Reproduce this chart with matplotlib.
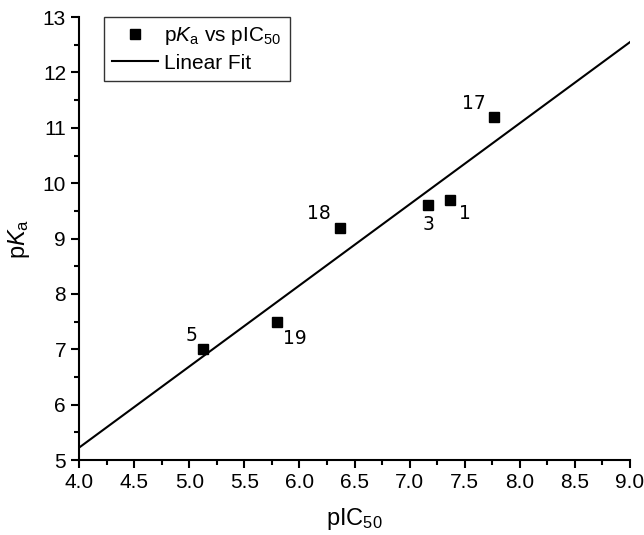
import numpy as np
import matplotlib
matplotlib.use("Agg")
import matplotlib.pyplot as plt
from matplotlib.ticker import MultipleLocator, FormatStrFormatter

# data
pic50 = [5.12, 5.80, 6.37, 7.17, 7.37, 7.77]
pka = [7.00, 7.50, 9.20, 9.60, 9.70, 11.20]
labels = ["5", "19", "18", "3", "1", "17"]
label_offsets = [(-12, 3), (4, -5), (-24, 3), (-4, -7), (6, -3), (-23, 3)]

plt.rcParams["font.family"] = ["Liberation Sans", "DejaVu Sans"]
plt.rcParams["mathtext.fontset"] = "custom"
plt.rcParams["mathtext.rm"] = "Liberation Sans"
plt.rcParams["mathtext.it"] = "Liberation Sans:italic"

fig = plt.figure(figsize=(6.44, 5.35), dpi=100)
ax = fig.add_axes([0.123, 0.140, 0.855, 0.828])

# linear fit of the points
slope, intercept = np.polyfit(pic50, pka, 1)
xfit = np.array([4.0, 9.0])

ax.plot(pic50, pka, "s", color="black", markersize=7, label=r"p$K_\mathrm{a}$ vs pIC$_{50}$")
ax.plot(xfit, slope * xfit + intercept, color="black", lw=1.5, label="Linear Fit")

for x, y, t, off in zip(pic50, pka, labels, label_offsets):
    ax.annotate(t, (x, y), xytext=off, textcoords="offset points",
                ha="left", va="bottom" if off[1] > 0 else "top",
                fontsize=13.5, family="DejaVu Sans")

ax.set_xlim(4.0, 9.0)
ax.set_ylim(5, 13)
ax.xaxis.set_major_locator(MultipleLocator(0.5))
ax.xaxis.set_minor_locator(MultipleLocator(0.25))
ax.yaxis.set_major_locator(MultipleLocator(1))
ax.yaxis.set_minor_locator(MultipleLocator(0.5))
ax.xaxis.set_major_formatter(FormatStrFormatter("%.1f"))
ax.tick_params(which="major", direction="out", length=6, width=1.5, labelsize=15)
ax.tick_params(which="minor", direction="out", length=3.5, width=1.5)
for s in ["top", "right"]:
    ax.spines[s].set_visible(False)
for s in ["left", "bottom"]:
    ax.spines[s].set_linewidth(1.5)

ax.set_xlabel("pIC$_{50}$", fontsize=17, labelpad=10)
ax.set_ylabel("p$K_\\mathrm{a}$", fontsize=17, labelpad=8)

leg = ax.legend(loc="upper left", bbox_to_anchor=(0.045, 1.0), borderaxespad=0,
                fontsize=15, frameon=True, fancybox=False, edgecolor="black",
                handlelength=2.2, handletextpad=0.3, borderpad=0.4,
                labelspacing=0.3)
leg.get_frame().set_linewidth(1.0)

fig.savefig("out.png", dpi=100)
